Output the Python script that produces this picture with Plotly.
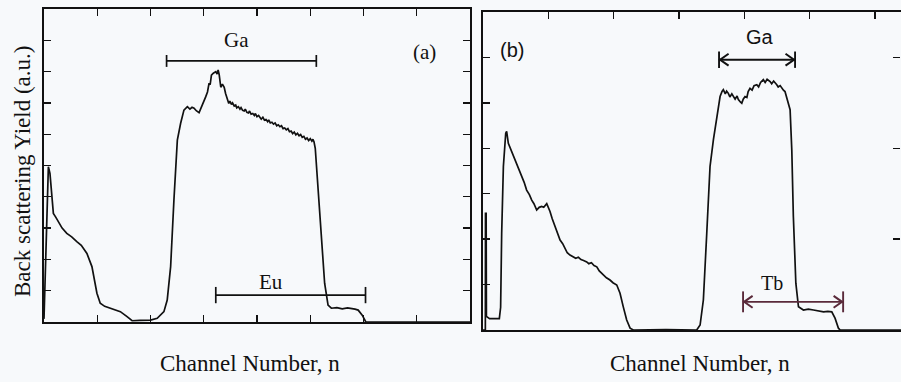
import plotly.graph_objects as go

# ---------------- data ----------------
# Panel (a): RBS spectrum (channel, yield in a.u.)
ch_a = [0, 2.5, 4.1, 5.6, 8.8, 11, 13.5, 17, 21.4, 26, 30.8, 35, 40.3, 45, 49.7, 52.8, 57, 62.3, 67, 71.7,
        78, 82.7, 90, 100, 106.3, 112.6, 115.7, 118.9, 122, 125.2, 128.3, 131.4, 134.6, 137, 139, 140.9,
        143, 145.6, 147, 148.7, 150, 151.9, 153.5, 155, 156, 157.2, 159, 161.3, 162.5, 163.5, 164.5, 166,
        167.5, 169.2, 170.5, 172.3, 173.5, 174.5, 176, 177, 178.6, 180, 181, 182.5, 184, 185, 186.5, 188,
        189, 190.5, 192, 193, 194.5, 196, 197.5, 198.5, 200, 201.5, 203, 204, 205.5, 207, 208.5, 210, 211,
        212.5, 214, 215.5, 217, 218.5, 220, 221.5, 223, 224.5, 226, 227.5, 229, 230.5, 232, 233.5, 235,
        236.5, 238, 239.5, 241, 242.5, 244, 245.5, 247, 248.5, 250, 251.5, 252.5, 253.5, 254.7, 257.2,
        260.4, 263.5, 266.7, 269.8, 275, 280, 285, 288.7, 292, 295, 298.8, 302.2, 330, 400]
y_a = [0.1, 3.0, 4.96, 4.75, 3.47, 3.35, 3.2, 3.0, 2.83, 2.72, 2.57, 2.45, 2.19, 1.77, 0.92, 0.6, 0.5, 0.44,
       0.38, 0.33, 0.17, 0.04, 0.05, 0.06, 0.12, 0.33, 0.7, 1.77, 3.9, 5.81, 6.35, 6.77, 6.88, 6.8, 6.86,
       6.83, 6.75, 6.69, 6.8, 6.93, 7.0, 7.2, 7.35, 7.63, 7.58, 7.89, 7.95, 8.0, 7.92, 8.05, 7.9, 7.5,
       7.6, 7.5, 7.3, 7.09, 6.98, 7.06, 6.95, 7.0, 6.9, 6.93, 6.84, 6.88, 6.8, 6.85, 6.76, 6.74,
       6.8, 6.7, 6.68, 6.74, 6.64, 6.66, 6.6, 6.66, 6.56, 6.6, 6.52, 6.48, 6.54, 6.45, 6.47, 6.4, 6.46,
       6.36, 6.38, 6.32, 6.36, 6.27, 6.3, 6.24, 6.27, 6.18, 6.2, 6.14, 6.18, 6.08, 6.1, 6.02, 6.07,
       5.98, 6.03, 5.95, 5.99, 5.9, 5.93, 5.84, 5.88, 5.8, 5.86, 5.78, 5.84, 5.76, 5.55, 4.32,
       2.83, 1.24, 0.54, 0.44, 0.46, 0.42, 0.45, 0.44, 0.41, 0.38, 0.22, 0.0, 0.0, 0.0]

# Panel (b): RBS spectrum (channel, yield in a.u.)
ch_b = [0, 1.8, 1.9, 2.4, 2.6, 5, 12.5, 13.5, 14.3, 15.6, 17.4, 18.1, 19.4, 21, 23.2, 25.8, 27.5, 29.6,
        31.5, 33.4, 35.5, 37.3, 39, 41.1, 43, 44.9, 46.5, 48.8, 51.3, 53, 55.1, 57, 59, 61, 62.8, 64.5,
        66.6, 69, 71, 73, 75, 77, 79.4, 81, 83, 85, 87.1, 89, 92.1, 94.5, 97.2, 99.5, 102.4, 104.9, 107.4,
        110, 112.6, 115.1, 140, 163.6, 166.2, 168.7, 171.3, 173.8, 176.4, 179, 181.5, 183, 184, 185.5,
        186.5, 187.8, 189, 190.5, 191.7, 193, 194.5, 195.5, 197, 198.1, 199.2, 200.6, 202, 203, 204.4,
        206, 207.5, 209.6, 211, 212.5, 214.6, 216, 217.5, 219.8, 221, 222.5, 224.9, 226, 227.5, 228.7,
        230, 231.2, 232.5, 233.8, 235.1, 236.4, 237.6, 239.5, 241.5, 245.3, 249, 253, 257, 260.7, 264,
        267, 269.5, 272.1, 273.4, 300, 320]
y_b = [0.0, 0.0, 2.57, 2.57, 0.3, 0.25, 0.25, 0.5, 2.13, 3.6, 4.33, 4.37, 4.11, 4.0, 3.82, 3.67, 3.55,
       3.41, 3.25, 3.08, 2.98, 2.86, 2.78, 2.64, 2.7, 2.72, 2.7, 2.78, 2.61, 2.45, 2.28, 2.12, 1.98, 1.9,
       1.8, 1.7, 1.65, 1.62, 1.58, 1.6, 1.55, 1.53, 1.5, 1.46, 1.48, 1.42, 1.39, 1.3, 1.21, 1.15, 1.1,
       1.04, 0.99, 0.81, 0.51, 0.22, 0.04, 0.0, 0.01, 0.0, 0.11, 0.66, 2.13, 3.6, 4.19, 4.7, 5.14, 5.25,
       5.29, 5.2, 5.26, 5.21, 5.13, 5.2, 5.14, 5.08, 5.15, 5.07, 5.02, 4.99, 5.08, 5.14, 5.12, 5.25, 5.32,
       5.28, 5.38, 5.4, 5.35, 5.45, 5.51, 5.45, 5.52, 5.47, 5.42, 5.48, 5.4, 5.35, 5.38, 5.32, 5.28, 5.25,
       5.1, 4.99, 4.85, 3.96, 2.5, 1.03, 0.51, 0.44, 0.46, 0.44, 0.42, 0.4, 0.41, 0.4, 0.26, 0.04, 0.0,
       0.0, 0.0]

# Element ranges (channel start, channel end, yield level)
ga_a = [115.1, 255.7, 8.34]
eu_a = [161.3, 301.9, 0.86]
ga_b = [180.7, 238.9, 5.95]
tb_b = [199.1, 275.7, 0.62]

# Label anchor points (channel, yield)
labels_a = {"Ga": (181, 9.0), "Eu": (213, 1.28), "(a)": (357, 8.63)}
labels_b = {"(b)": (22, 6.17), "Ga": (212, 6.45), "Tb": (221, 1.04)}

x_title = "Channel Number, n"
y_title = "Back scattering Yield (a.u.)"

# ---------------- figure ----------------
INK = "#111111"
TB = "#5a2a3a"
BG = "#f7f9fb"

fig = go.Figure()

fig.add_trace(go.Scatter(x=ch_a, y=y_a, mode="lines", line=dict(color=INK, width=1.7),
                         xaxis="x", yaxis="y", hoverinfo="skip"))
fig.add_trace(go.Scatter(x=ch_b, y=y_b, mode="lines", line=dict(color=INK, width=1.7),
                         xaxis="x2", yaxis="y2", hoverinfo="skip"))


def bracket(rng, cap, xa, ya, color, width=1.7):
    x0, x1, yv = rng
    xs = [x0, x1, None, x0, x0, None, x1, x1]
    ys = [yv, yv, None, yv - cap, yv + cap, None, yv - cap, yv + cap]
    fig.add_trace(go.Scatter(x=xs, y=ys, mode="lines", line=dict(color=color, width=width),
                             xaxis=xa, yaxis=ya, hoverinfo="skip"))


def arrowheads(rng, dx, dy, gap, xa, ya, color, width=2.0):
    x0, x1, yv = rng
    xs = [x0 + gap + dx, x0 + gap, x0 + gap + dx, None, x1 - gap - dx, x1 - gap, x1 - gap - dx]
    ys = [yv + dy, yv, yv - dy, None, yv + dy, yv, yv - dy]
    fig.add_trace(go.Scatter(x=xs, y=ys, mode="lines", line=dict(color=color, width=width),
                             xaxis=xa, yaxis=ya, hoverinfo="skip"))


bracket(ga_a, 0.19, "x", "y", INK)
bracket(eu_a, 0.26, "x", "y", INK)
bracket(ga_b, 0.18, "x2", "y2", INK, 1.9)
arrowheads(ga_b, 6.5, 0.13, 0.8, "x2", "y2", INK)
bracket(tb_b, 0.23, "x2", "y2", TB, 1.9)
arrowheads(tb_b, 6.5, 0.13, 0.8, "x2", "y2", TB)

# invisible trace to activate the right-hand tick axis of panel (b)
fig.add_trace(go.Scatter(x=[0], y=[0], mode="markers", marker=dict(opacity=0), xaxis="x2", yaxis="y3",
                         hoverinfo="skip"))

axis_common = dict(showline=True, linecolor=INK, linewidth=1.6, ticks="inside", ticklen=7,
                   tickwidth=1.3, tickcolor=INK, showticklabels=False, showgrid=False,
                   zeroline=False, fixedrange=True)

fig.update_layout(
    width=901, height=382,
    margin=dict(l=0, r=0, t=0, b=0),
    paper_bgcolor=BG, plot_bgcolor=BG,
    showlegend=False,
    xaxis=dict(domain=[44 / 901, 470 / 901], range=[0, 400], tickvals=[50, 100, 150, 200, 250, 300, 350],
               mirror="ticks", anchor="y", **axis_common),
    yaxis=dict(domain=[(382 - 322) / 382, (382 - 9) / 382], range=[0, 10], tickvals=list(range(1, 10)),
               mirror="ticks", anchor="x", **axis_common),
    xaxis2=dict(domain=[483 / 901, 1.0], range=[0, 320], tickvals=[50, 100, 150, 200, 250, 300],
                side="top", mirror=True, anchor="y2", **axis_common),
    yaxis2=dict(domain=[(382 - 330) / 382, (382 - 12) / 382], range=[0, 7], tickvals=[1, 2, 3, 4, 5, 6],
                mirror=False, anchor="x2", **axis_common),
    yaxis3=dict(overlaying="y2", side="right", anchor="free", position=0.999, range=[0, 7],
                tickvals=[2, 4, 6], ticks="inside", ticklen=7, tickwidth=1.3, tickcolor=INK,
                showline=False, showticklabels=False, showgrid=False, zeroline=False, fixedrange=True),
)

serif = "Liberation Serif"
sans = "Liberation Sans"
ann = []
for txt, (xv, yv) in labels_a.items():
    ann.append(dict(text=txt, x=xv, y=yv, xref="x", yref="y", showarrow=False,
                    xanchor="center", yanchor="middle", font=dict(family=serif, size=21, color=INK)))
for txt, (xv, yv) in labels_b.items():
    fam = serif if txt == "Tb" else sans
    ann.append(dict(text=txt, x=xv, y=yv, xref="x2", yref="y2", showarrow=False,
                    xanchor="center", yanchor="middle", font=dict(family=fam, size=20, color=INK)))
ann.append(dict(text=x_title, x=250 / 901, y=(382 - 363) / 382, xref="paper", yref="paper",
                xanchor="center", yanchor="middle", showarrow=False,
                font=dict(family=serif, size=23, color=INK)))
ann.append(dict(text=x_title, x=700 / 901, y=(382 - 363) / 382, xref="paper", yref="paper",
                xanchor="center", yanchor="middle", showarrow=False,
                font=dict(family=serif, size=23, color=INK)))
ann.append(dict(text=y_title, x=22 / 901, y=(382 - 172) / 382, xref="paper", yref="paper",
                xanchor="center", yanchor="middle", textangle=-90, showarrow=False,
                font=dict(family=serif, size=23, color=INK)))
fig.update_layout(annotations=ann)

fig.write_html("out.html", config={"displayModeBar": False, "staticPlot": True},
               post_script="document.body.style.margin='0';document.body.style.overflow='hidden';")
